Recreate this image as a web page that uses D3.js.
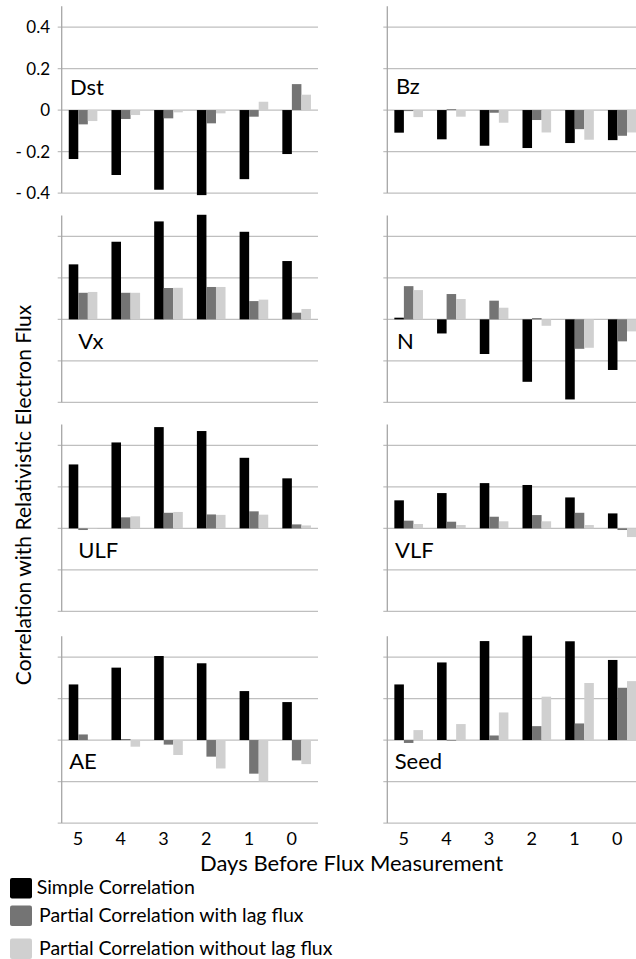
<!DOCTYPE html>
<html>
<head>
<meta charset="utf-8">
<script src="https://cdn.jsdelivr.net/npm/d3@7"></script>
<style>
  body { margin: 0; background: #fff; }
  svg { display: block; }
  text { font-family: Lato, "Open Sans", sans-serif; fill: #000; }
</style>
</head>
<body>
<svg id="chart" width="636" height="959"></svg>
<script>
// Lag in days before the flux measurement
const days = ["5", "4", "3", "2", "1", "0"];

const seriesNames = [
  "Simple Correlation",
  "Partial Correlation with lag flux",
  "Partial Correlation without lag flux"
];
const seriesColors = ["#000000", "#747474", "#d0d0d0"];

const yTickValues = [0.4, 0.2, 0, -0.2, -0.4];
const yTickLabels = ["0.4", "0.2", "0", "- 0.2", "- 0.4"];

const panelNames = ["Dst", "Bz", "Vx", "N", "ULF", "VLF", "AE", "Seed"];

// Each panel: [simple, partial with lag flux, partial without lag flux], days 5..0
const dstValues  = [[-0.236, -0.313, -0.384, -0.410, -0.333, -0.212],
                    [-0.069, -0.043, -0.040, -0.064, -0.032,  0.125],
                    [-0.053, -0.024, -0.011, -0.016,  0.040,  0.074]];
const bzValues   = [[-0.109, -0.141, -0.172, -0.183, -0.159, -0.145],
                    [-0.005,  0.004, -0.013, -0.048, -0.092, -0.124],
                    [-0.034, -0.032, -0.061, -0.108, -0.143, -0.108]];
const vxValues   = [[ 0.265,  0.374,  0.472,  0.504,  0.422,  0.281],
                    [ 0.128,  0.128,  0.151,  0.156,  0.088,  0.032],
                    [ 0.132,  0.128,  0.152,  0.156,  0.095,  0.050]];
const nValues    = [[ 0.008, -0.068, -0.167, -0.301, -0.386, -0.244],
                    [ 0.160,  0.122,  0.090,  0.006, -0.142, -0.106],
                    [ 0.141,  0.098,  0.056, -0.031, -0.137, -0.058]];
const ulfValues  = [[ 0.308,  0.414,  0.488,  0.469,  0.340,  0.241],
                    [-0.008,  0.053,  0.075,  0.067,  0.082,  0.019],
                    [-0.002,  0.058,  0.079,  0.065,  0.066,  0.014]];
const vlfValues  = [[ 0.135,  0.170,  0.218,  0.209,  0.149,  0.072],
                    [ 0.037,  0.032,  0.056,  0.064,  0.075, -0.008],
                    [ 0.021,  0.016,  0.034,  0.034,  0.016, -0.042]];
const aeValues   = [[ 0.268,  0.349,  0.405,  0.370,  0.236,  0.183],
                    [ 0.027,  0.005, -0.022, -0.080, -0.162, -0.098],
                    [ 0.000, -0.032, -0.072, -0.137, -0.200, -0.116]];
const seedValues = [[ 0.268,  0.374,  0.477,  0.503,  0.476,  0.386],
                    [-0.014, -0.003,  0.022,  0.067,  0.080,  0.252],
                    [ 0.048,  0.077,  0.133,  0.209,  0.275,  0.284]];

const panelValues = [dstValues, bzValues, vxValues, nValues, ulfValues, vlfValues, aeValues, seedValues];

// ---- layout ----
const colLeft = [61.7, 387.3];
const plotW = 256.3;
const rowTop = [6.3, 215.6, 424.6, 636.3];
const plotH = 186.75;
const yDomain = [-0.4, 0.5];
const labelOffsets = [
  { dx: 8.3, dy: -15 }, { dx: 8.7, dy: -16 },
  { dx: 16.5, dy: 30 }, { dx: 9.7, dy: 30 },
  { dx: 16.5, dy: 30 }, { dx: 7.7, dy: 30 },
  { dx: 7.5, dy: 29 }, { dx: 7.4, dy: 29 }
];

const svg = d3.select("#chart");

const x = d3.scaleBand().domain(days).range([0, plotW]).paddingInner(0.33).paddingOuter(0.165);
const xs = d3.scaleBand().domain(d3.range(3)).range([0, x.bandwidth()]);
const y = d3.scaleLinear().domain(yDomain).range([plotH, 0]);

panelNames.forEach((name, i) => {
  const col = i % 2, row = Math.floor(i / 2);
  const g = svg.append("g").attr("transform", `translate(${colLeft[col]},${rowTop[row]})`);

  // horizontal gridlines (with short tick marks left of the axis)
  g.selectAll("line.grid").data(yTickValues).join("line")
    .attr("class", "grid")
    .attr("x1", -4).attr("x2", plotW)
    .attr("y1", d => y(d)).attr("y2", d => y(d))
    .attr("stroke", "#bfbfbf").attr("stroke-width", 1.3);

  // bars
  const vals = panelValues[i];
  vals.forEach((series, s) => {
    g.selectAll(`rect.s${s}`).data(series).join("rect")
      .attr("class", `s${s}`)
      .attr("x", (d, k) => x(days[k]) + xs(s))
      .attr("width", xs.bandwidth())
      .attr("y", d => y(Math.max(0, d)))
      .attr("height", d => Math.abs(y(d) - y(0)))
      .attr("fill", seriesColors[s]);
  });

  // vertical axis line
  g.append("line")
    .attr("x1", 0).attr("x2", 0)
    .attr("y1", y(yDomain[1])).attr("y2", y(yDomain[0]))
    .attr("stroke", "#a6a6a6").attr("stroke-width", 1.3);

  // panel name
  const lo = labelOffsets[i];
  g.append("text")
    .attr("x", lo.dx).attr("y", y(0) + lo.dy)
    .attr("font-size", 22)
    .text(name);

  // value labels only on the first panel
  if (i === 0) {
    g.selectAll("text.ytick").data(yTickValues).join("text")
      .attr("class", "ytick")
      .attr("x", -11.7).attr("y", d => y(d))
      .attr("dy", "0.36em")
      .attr("text-anchor", "end")
      .attr("font-size", 17)
      .text((d, k) => yTickLabels[k]);
  }

  // day labels under the bottom row
  if (row === 3) {
    g.selectAll("text.xtick").data(days).join("text")
      .attr("class", "xtick")
      .attr("x", d => x(d) + x.bandwidth() / 2 - 5)
      .attr("y", plotH + 21.5)
      .attr("text-anchor", "middle")
      .attr("font-size", 18)
      .text(d => d);
  }
});

// axis titles
svg.append("text")
  .attr("x", 200).attr("y", 870.5)
  .attr("font-size", 22)
  .text("Days Before Flux Measurement");

svg.append("text")
  .attr("transform", "translate(31,495) rotate(-90)")
  .attr("text-anchor", "middle")
  .attr("font-size", 21)
  .text("Correlation with Relativistic Electron Flux");

// legend
const legendRows = [
  { y: 878, tx: 36.7, ty: 893.5 },
  { y: 905.5, tx: 39, ty: 921.5 },
  { y: 938.5, tx: 39, ty: 954.5 }
];
const legend = svg.append("g");
seriesNames.forEach((n, s) => {
  const r = legendRows[s];
  legend.append("rect")
    .attr("x", 10).attr("y", r.y).attr("width", 22).attr("height", 20.5)
    .attr("rx", 2).attr("fill", seriesColors[s]);
  legend.append("text")
    .attr("x", r.tx).attr("y", r.ty)
    .attr("font-size", 19.5)
    .text(n);
});
</script>
</body>
</html>
